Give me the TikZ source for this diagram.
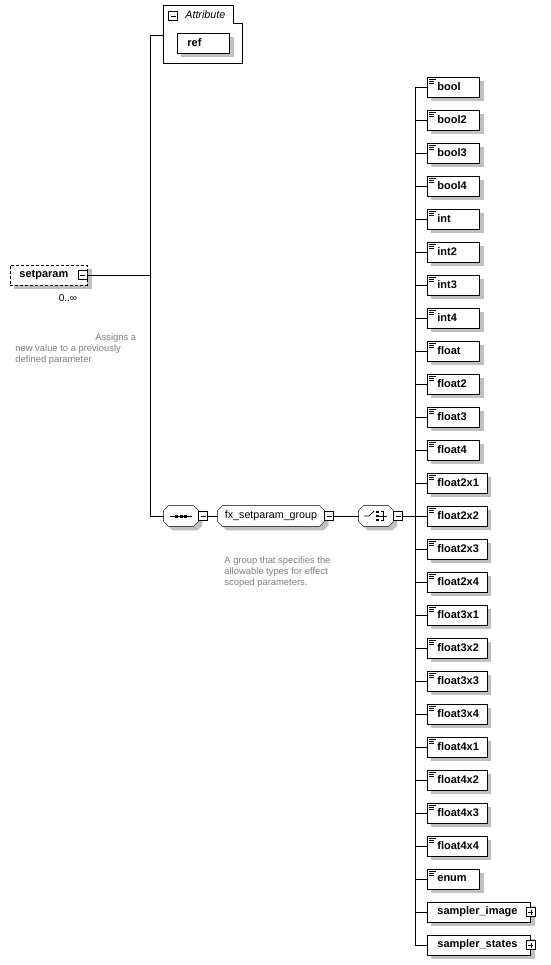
\documentclass[tikz,border=0pt]{standalone}
\usepackage{fontspec}
\setmainfont{Liberation Sans}
\usetikzlibrary{calc}
\definecolor{shadowgray}{RGB}{192,192,192}
\definecolor{desc}{HTML}{808080}
\pgfdeclarelayer{bg}
\pgfsetlayers{bg,main}
\newlength\eltmpw
\newcommand\eltext[1]{\settowidth\eltmpw{#1}\ifdim\eltmpw<34pt\eltmpw=34pt\fi\hspace*{10pt}\makebox[\eltmpw][l]{#1}\hspace*{8pt}}
\newcommand\eltextp[1]{\hspace*{10pt}#1\hspace*{13pt}}
\newcommand\bfs{\fontsize{11}{13}\selectfont\bfseries}
\newcommand\rgs{\fontsize{10.7}{13}\selectfont}
\newcommand\dss{\fontsize{9.4}{10.8}\selectfont}
\newcommand\octo[4]{($(#1.north west)+(#2+#3,#4)$) -- ($(#1.north east)+(-#2+#3,#4)$) -- ($(#1.north east)+(#3,#2+#4)$) -- ($(#1.south east)+(#3,-#2+#4)$) -- ($(#1.south east)+(-#2+#3,#4)$) -- ($(#1.south west)+(#2+#3,#4)$) -- ($(#1.south west)+(#3,-#2+#4)$) -- ($(#1.north west)+(#3,#2+#4)$) -- cycle}
\newcommand\boxshadow[1]{\fill[shadowgray] ($(#1.north west)+(4,4)$) rectangle ($(#1.south east)+(4,4)$);}
\tikzset{
  elem/.style={draw, fill=white, minimum height=20pt, inner xsep=0pt, inner ysep=0pt, anchor=west, font=\bfs},
  icon/.style={path picture={
    \draw[line width=0.6pt] ($(path picture bounding box.north west)+(2,2.5)$) -- +(7,0)
      ($(path picture bounding box.north west)+(2,4.5)$) -- +(5,0)
      ($(path picture bounding box.north west)+(2,6.5)$) -- +(5,0);}},
  pm/.style={draw, fill=white, minimum size=9pt, inner sep=0pt},
  minus/.style={pm, path picture={\draw ($(path picture bounding box.west)+(2,0)$) -- ($(path picture bounding box.east)+(-2,0)$);}},
  plus/.style={pm, path picture={\draw ($(path picture bounding box.west)+(2,0)$) -- ($(path picture bounding box.east)+(-2,0)$)
      ($(path picture bounding box.north)+(0,2)$) -- ($(path picture bounding box.south)+(0,-2)$);}},
  octnode/.style={draw=none, minimum height=20pt, inner sep=0pt},
  descr/.style={font=\dss, text=desc, align=left, inner sep=0pt, anchor=north west},
}
\begin{document}
\begin{tikzpicture}[x=1pt, y=-1pt, line width=0.8pt]
\useasboundingbox (0,0) rectangle (550,965);

% Attribute group
\draw (163,5) -- (233,5) -- (233,23) -- (242,23) -- (242,63) -- (163,63) -- cycle;
\node[minus] (attrm) at (173,16) {};
\node[font=\rgs\itshape, anchor=west, inner sep=0pt] (attr) at (185,15) {Attribute};
\node[elem] (ref) at (177,43) {\eltext{ref}};
\coordinate (attrL) at (163,35);

% setparam
\node[elem, dash pattern=on 3pt off 2pt, font=\bfs] (sp) at (10,275) {\hspace*{9pt}setparam\hspace*{19pt}};
\node[minus] (spm) at ($(sp.east)+(-5,0)$) {};
\node[font=\fontsize{10}{12}\selectfont, inner sep=0pt] (card) at (68,298) {0..∞};
\node[descr] (spd) at (15,333.5) {\hspace*{80pt}Assigns a\\new value to a previously\\defined parameter};

\coordinate (tk) at (150,0);
\coordinate (tr) at (415,0);

% sequence / group / choice
\node[octnode, minimum width=34pt] (seq) at (181,516) {};
\node[minus] (seqm) at (203,516) {};
\node[octnode, minimum width=106pt, font=\rgs] (grp) at (271,516) {fx\_setparam\_group};
\node[minus] (grpm) at (329,516) {};
\node[octnode, minimum width=34pt] (chc) at (376,516) {};
\node[minus] (chcm) at (398,516) {};
\node[descr] (grpd) at (224,556.5) {A group that specifies the\\allowable types for effect\\scoped parameters.};

% sequence icon
\draw[line width=0.7pt] ($(seq.center)+(-11,0)$) -- ($(seq.center)+(11,0)$);
\foreach \dx in {-4.5,0,4.5} \fill ($(seq.center)+(\dx-1.5,-1.5)$) rectangle +(3,3);
% choice icon
\draw[line width=0.7pt] ($(chc.center)+(-12,0)$) -- ($(chc.center)+(-7,0)$) -- ($(chc.center)+(-2,-5)$);
\foreach \dy in {-4,0,4} \fill ($(chc.center)+(0.2,\dy-1.4)$) rectangle +(2.8,2.8);
\draw[line width=0.7pt] ($(chc.center)+(4.5,-4.5)$) -- ($(chc.center)+(7,-4.5)$) -- ($(chc.center)+(7,4.5)$) -- ($(chc.center)+(4.5,4.5)$);
\draw[line width=0.7pt] ($(chc.center)+(3,0)$) -- ($(chc.center)+(11,0)$);

% elements
\foreach \n [count=\i from 0] in {bool,bool2,bool3,bool4,int,int2,int3,int4,float,float2,float3,float4,float2x1,float2x2,float2x3,float2x4,float3x1,float3x2,float3x3,float3x4,float4x1,float4x2,float4x3,float4x4,enum} {
  \node[elem, icon] (e\i) at (427,87+33*\i) {\eltext{\n}};
}
\node[elem] (e25) at (427,912) {\eltextp{sampler\_image}};
\node[elem] (e26) at (427,945) {\eltextp{sampler\_states}};
\node[plus] (e25p) at (e25.east) {};
\node[plus] (e26p) at (e26.east) {};

% shadows and octagon outlines behind everything
\begin{pgfonlayer}{bg}
  \foreach \nm in {seq,grp,chc} {
    \fill[shadowgray] \octo{\nm}{5}{4}{4};
  }
  \foreach \nm in {seq,grp,chc} {
    \draw[fill=white] \octo{\nm}{5}{0}{0};
  }
  \foreach \i in {0,...,26} {\boxshadow{e\i}}
  \boxshadow{ref}
  \boxshadow{sp}
\end{pgfonlayer}

% connectors
\draw (attrL) -| (tk |- seq.west) -- (seq.west);
\draw (spm.east) -- (spm.east -| tk);
\draw (seqm.east) -- (grp.west);
\draw (grpm.east) -- (chc.west);
\draw (chcm.east) -- (chcm.east -| tr);
\draw (tr |- e0.west) -- (tr |- e26.west);
\foreach \i in {0,...,26} \draw (tr |- e\i.west) -- (e\i.west);
\end{tikzpicture}
\end{document}
